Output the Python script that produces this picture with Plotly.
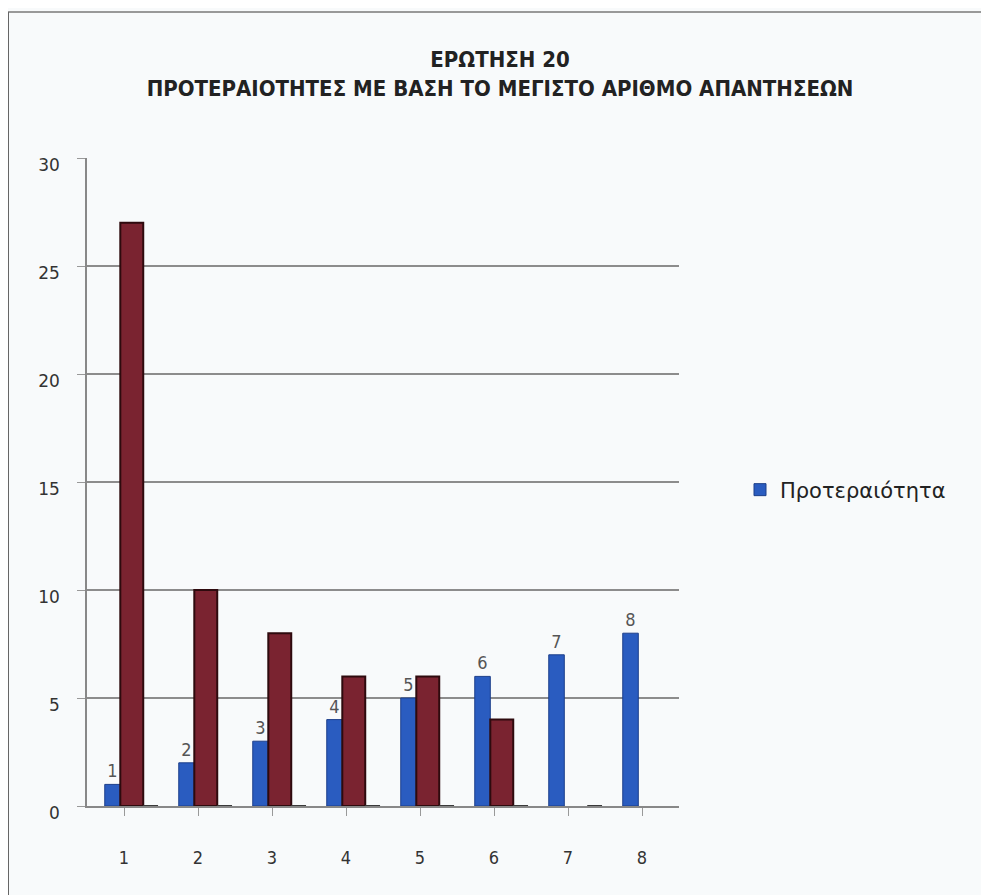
import plotly.graph_objects as go

categories = ["1", "2", "3", "4", "5", "6", "7", "8"]
priority = [1, 2, 3, 4, 5, 6, 7, 8]
answers = [27, 10, 8, 6, 6, 4, None, None]
third = [0, 0, 0, 0, 0, 0, 0, None]
y_ticks = [0, 5, 10, 15, 20, 25, 30]

xs = list(range(1, len(categories) + 1))
NARROW = "DejaVu Sans Condensed, Liberation Sans Narrow, sans-serif"

# page body has an 8px margin, so figure coords = screen coords - 8
L, T, R, B = 79, 150, 318, 97
PW = 989 - L - R
PH = 895 - T - B

fig = go.Figure()
fig.add_trace(go.Bar(
    x=xs, y=priority, name="Προτεραιότητα",
    marker=dict(color="#2a5cc0", line=dict(color="#1d3f8a", width=1)),
    offset=-0.26, width=0.21,
    text=[str(v) for v in priority], textposition="outside",
    textfont=dict(family=NARROW, size=18, color="#555"),
    cliponaxis=False, showlegend=True,
))
fig.add_trace(go.Bar(
    x=xs, y=answers, name="Απαντήσεις",
    marker=dict(color="#7a2330", line=dict(color="#2e0a0e", width=2)),
    offset=-0.05, width=0.31, showlegend=False,
))
fig.add_trace(go.Bar(
    x=xs, y=third, name="Σειρά 3",
    marker=dict(color="#3a3a3a", line=dict(color="#3a3a3a", width=2)),
    offset=0.26, width=0.2, showlegend=False,
))

fig.update_layout(
    width=989, height=895,
    margin=dict(l=L, r=R, t=T, b=B, autoexpand=False),
    paper_bgcolor="#f8fafb", plot_bgcolor="#f8fafb",
    barmode="overlay",
    title=dict(
        text="ΕΡΩΤΗΣΗ 20<br>ΠΡΟΤΕΡΑΙΟΤΗΤΕΣ ΜΕ ΒΑΣΗ ΤΟ ΜΕΓΙΣΤΟ ΑΡΙΘΜΟ ΑΠΑΝΤΗΣΕΩΝ",
        x=(500 - 8) / 989, xanchor="center", y=1 - 59 / 895, yanchor="middle", yref="container",
        automargin=False,
        font=dict(family=NARROW, size=22, color="#222", weight="bold"),
    ),
    xaxis=dict(
        range=[0.5, 8.5], tickvals=xs, ticktext=categories,
        tickson="boundaries", ticks="outside", ticklen=8, tickcolor="#999",
        showline=True, linecolor="#888", linewidth=1.5, showgrid=False,
        ticklabelstandoff=27, automargin=False,
        tickfont=dict(family=NARROW, size=18, color="#333"),
    ),
    yaxis=dict(
        range=[0, 30], tickvals=y_ticks,
        ticks="outside", ticklen=8, tickcolor="#999",
        showline=True, linecolor="#888", linewidth=1.5,
        showgrid=True, gridcolor="#8c8c8c", gridwidth=2,
        zeroline=False, ticklabelstandoff=14, ticklabelshift=7, automargin=False,
        tickfont=dict(family="DejaVu Sans, Verdana, sans-serif", size=17, color="#333"),
    ),
    legend=dict(
        x=(732 - L) / PW, y=(798 - 482) / PH, xanchor="left", yanchor="middle",
        bgcolor="rgba(0,0,0,0)",
        font=dict(family="DejaVu Sans, sans-serif", size=21, color="#222"),
        itemwidth=30,
    ),
    shapes=[
        dict(type="line", xref="paper", yref="paper", x0=-L / PW, x1=(989 - L) / PW,
             y0=1 + (T - 4) / PH, y1=1 + (T - 4) / PH, line=dict(color="#999", width=2)),
        dict(type="line", xref="paper", yref="paper", x0=-L / PW, x1=-L / PW,
             y0=1 + (T - 4) / PH, y1=-B / PH, line=dict(color="#666", width=2)),
    ],
)

fig.write_html("out.html")
